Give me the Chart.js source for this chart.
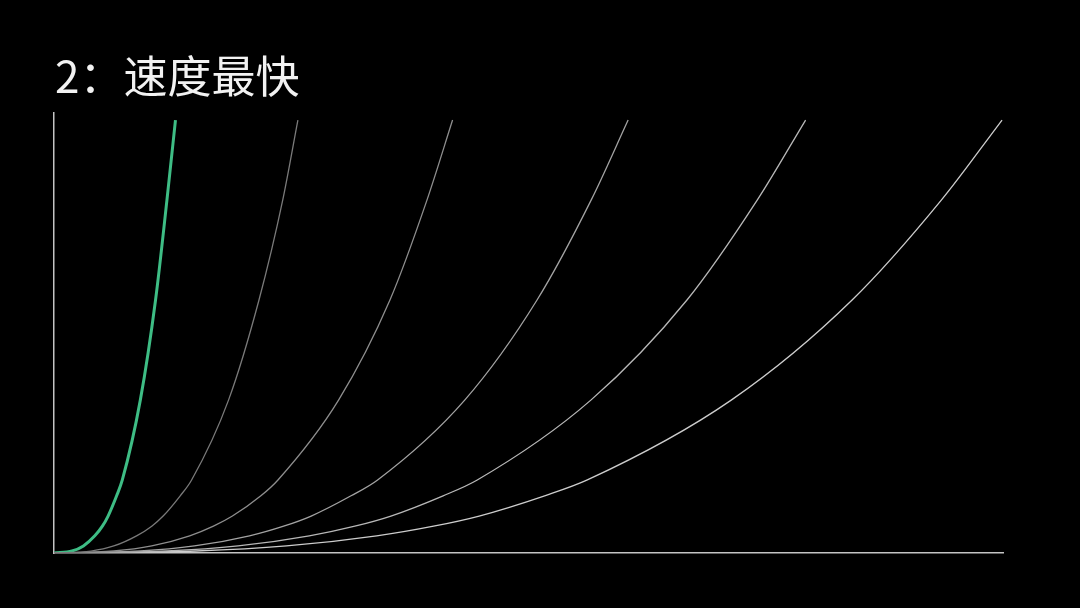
<!DOCTYPE html>
<html>
<head>
<meta charset="utf-8">
<script src="https://cdn.jsdelivr.net/npm/chart.js@4/dist/chart.umd.min.js"></script>
<style>
  html, body { margin: 0; padding: 0; background: #000; }
  #wrap { position: relative; width: 1080px; height: 608px; }
  #title {
    position: absolute; left: 55px; top: 44px;
    font-family: "Noto Sans CJK SC", "Noto Sans", sans-serif;
    font-size: 44px; color: #f2f2f2; line-height: 60px;
    white-space: nowrap;
  }
  canvas { position: absolute; left: 0; top: 0; }
</style>
</head>
<body>
<div id="wrap">
  <canvas id="chart" width="1080" height="608"></canvas>
  <div id="title">2：速度最快</div>
</div>
<script>
// curve heights (shared by all curves)
const levels = [0, 0.45, 1.6, 3.9, 6.1, 8.4, 13.0, 16.6, 34.8, 57.5, 80.2, 98.4];

// horizontal position of each curve at the levels above
const fastest = [0, 1.9, 3.1, 4.3, 5.1, 5.7, 6.6, 7.2, 9.1, 10.7, 11.9, 12.8];
const curve2 = [0, 3.9, 6.3, 8.7, 10.3, 11.5, 13.3, 14.5, 18.4, 21.6, 24.1, 25.7];
const curve3 = [0, 6.3, 10.3, 14.3, 16.8, 18.8, 21.8, 23.6, 30.0, 35.4, 39.3, 42.0];
const curve4 = [0, 9.1, 14.8, 20.6, 24.2, 27.1, 31.3, 34.1, 43.3, 50.9, 56.6, 60.5];
const curve5 = [0, 11.9, 19.4, 26.9, 31.7, 35.5, 41.0, 44.6, 56.6, 66.7, 74.1, 79.2];
const curve6 = [0, 15.0, 24.5, 34.0, 40.0, 44.8, 51.7, 56.2, 71.4, 84.1, 93.5, 99.9];

const grayCurves = [curve2, curve3, curve4, curve5, curve6];
const grayColors = ['#7a7a7a', '#8e8e8e', '#a3a3a3', '#b8b8b8', '#cdcdcd'];

function toPoints(xs) {
    return xs.map((x, i) => ({ x: x, y: levels[i] }));
}

const datasets = grayCurves.map((xs, i) => ({
    data: toPoints(xs),
    borderColor: grayColors[i],
    borderWidth: 1.3,
    pointRadius: 0,
    cubicInterpolationMode: 'monotone'
}));

// green one on top
datasets.push({
    data: toPoints(fastest),
    borderColor: '#3ebd85',
    borderWidth: 3,
    pointRadius: 0,
    cubicInterpolationMode: 'monotone'
});

new Chart(document.getElementById('chart'), {
    type: 'line',
    data: { datasets: datasets },
    options: {
        responsive: false,
        animation: false,
        layout: {
            padding: { left: 54, right: 77, top: 113, bottom: 55 }
        },
        plugins: {
            legend: { display: false },
            tooltip: { enabled: false }
        },
        scales: {
            x: {
                type: 'linear',
                min: 0,
                max: 100,
                grid: { display: false, drawTicks: false },
                ticks: { display: false },
                border: { display: true, color: '#c4c4c4', width: 1.5 }
            },
            y: {
                type: 'linear',
                min: 0,
                max: 100,
                grid: { display: false, drawTicks: false },
                ticks: { display: false },
                border: { display: true, color: '#c4c4c4', width: 1.5 }
            }
        }
    }
});
</script>
</body>
</html>
